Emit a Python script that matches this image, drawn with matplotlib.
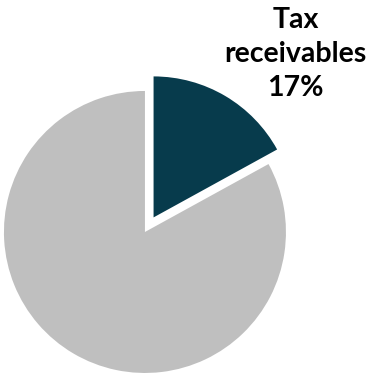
import matplotlib.pyplot as plt

# share of receivables
labels = ["Tax receivables", "Other"]
shares = [17, 83]
colors = ["#073B4C", "#BFBFBF"]

fig = plt.figure(figsize=(3.69, 3.73), dpi=100)
ax = fig.add_axes([0, 0, 1, 1])

ax.pie(shares, colors=colors, startangle=90, counterclock=False,
       explode=[0.12, 0], radius=1.0)

ax.set_xlim(-1.028, 1.589)
ax.set_ylim(-1.0, 1.645)
ax.set_aspect("equal")
ax.axis("off")

ax.text(1.07, 1.262, f"Tax\nreceivables\n{shares[0]}%", ha="center", va="center",
        fontsize=20.5, fontweight="bold", family="Lato", linespacing=1.4, color="black",
        clip_on=False)

fig.savefig("out.png", dpi=100)
